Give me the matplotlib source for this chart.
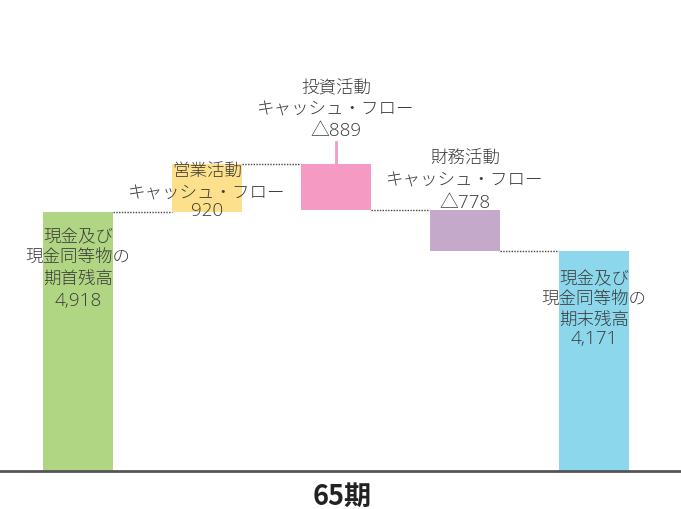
import matplotlib
matplotlib.use("Agg")
import matplotlib.pyplot as plt

plt.rcParams['font.family'] = ['Noto Sans CJK JP', 'DejaVu Sans']

categories = ["期首", "営業", "投資", "財務", "期末"]
values = [4918, 920, -889, -778, 4171]
names = [
    "現金及び\n現金同等物の\n期首残高",
    "営業活動\nキャッシュ・フロー",
    "投資活動\nキャッシュ・フロー",
    "財務活動\nキャッシュ・フロー",
    "現金及び\n現金同等物の\n期末残高",
]
value_labels = ["4,918", "920", "△889", "△778", "4,171"]
colors = ["#b1d683", "#fde08c", "#f49ac3", "#c4a9ca", "#8cd7eb"]
xlabel = "65期"

W, H = 681, 510
fig = plt.figure(figsize=(W / 100, H / 100), dpi=100)
base_px = 472
ax = fig.add_axes([0, (H - base_px) / H, 1, base_px / H])
scale = 259.0 / 4918
ymax = base_px / scale
ax.set_ylim(0, ymax)
spacing = 129.0
x0 = 78.0
ax.set_xlim(-x0 / spacing, (W - x0) / spacing)
bw = 70 / spacing

bottoms, tops = [], []
running = 0
for i, v in enumerate(values):
    if i == 0 or i == len(values) - 1:
        b, t = 0, v
        running = v
    else:
        new = running + v
        b, t = min(running, new), max(running, new)
        running = new
    bottoms.append(b)
    tops.append(t)

xs = list(range(len(values)))
for x, b, t, c in zip(xs, bottoms, tops, colors):
    ax.bar(x, t - b, bottom=b, width=bw, color=c, zorder=2)

level = values[0]
for i in range(len(values) - 1):
    if i > 0:
        level = level + values[i]
    ax.plot([xs[i] + bw / 2, xs[i + 1] - bw / 2], [level, level],
            color="#444444", lw=1.0, ls=(0, (1, 1)), zorder=1)

ax.plot([2, 2], [tops[2], tops[2] + 22 / scale], color="#f49ac3", lw=2, zorder=2)

fs = 12.6
label_top_px = [228, 163, 79, 150, 270]
value_base_px = [305.5, 216, 135.5, 208, 344]
for i in xs:
    y = (base_px - label_top_px[i]) / scale
    ax.text(xs[i], y, names[i], ha="center", va="top", fontsize=fs,
            color="#3a3a3a", linespacing=1.22, zorder=3, fontweight="light")
    yv = (base_px - value_base_px[i]) / scale
    ax.text(xs[i], yv, value_labels[i], ha="center", va="baseline",
            fontsize=13.6, color="#3a3a3a", zorder=3, fontweight="light",
            family=["Open Sans", "Noto Sans CJK JP", "DejaVu Sans"])

ax.plot([-1, 6], [0, 0], color="#555555", lw=2, zorder=4, clip_on=False,
        solid_capstyle="butt")
for s in ax.spines.values():
    s.set_visible(False)
ax.set_xticks([])
ax.set_yticks([])
fig.text(342 / W, 1 - 497 / H, xlabel, ha="center", va="center",
         fontsize=19.5, fontweight="bold", color="#222222")

fig.savefig("out.png", dpi=100)
